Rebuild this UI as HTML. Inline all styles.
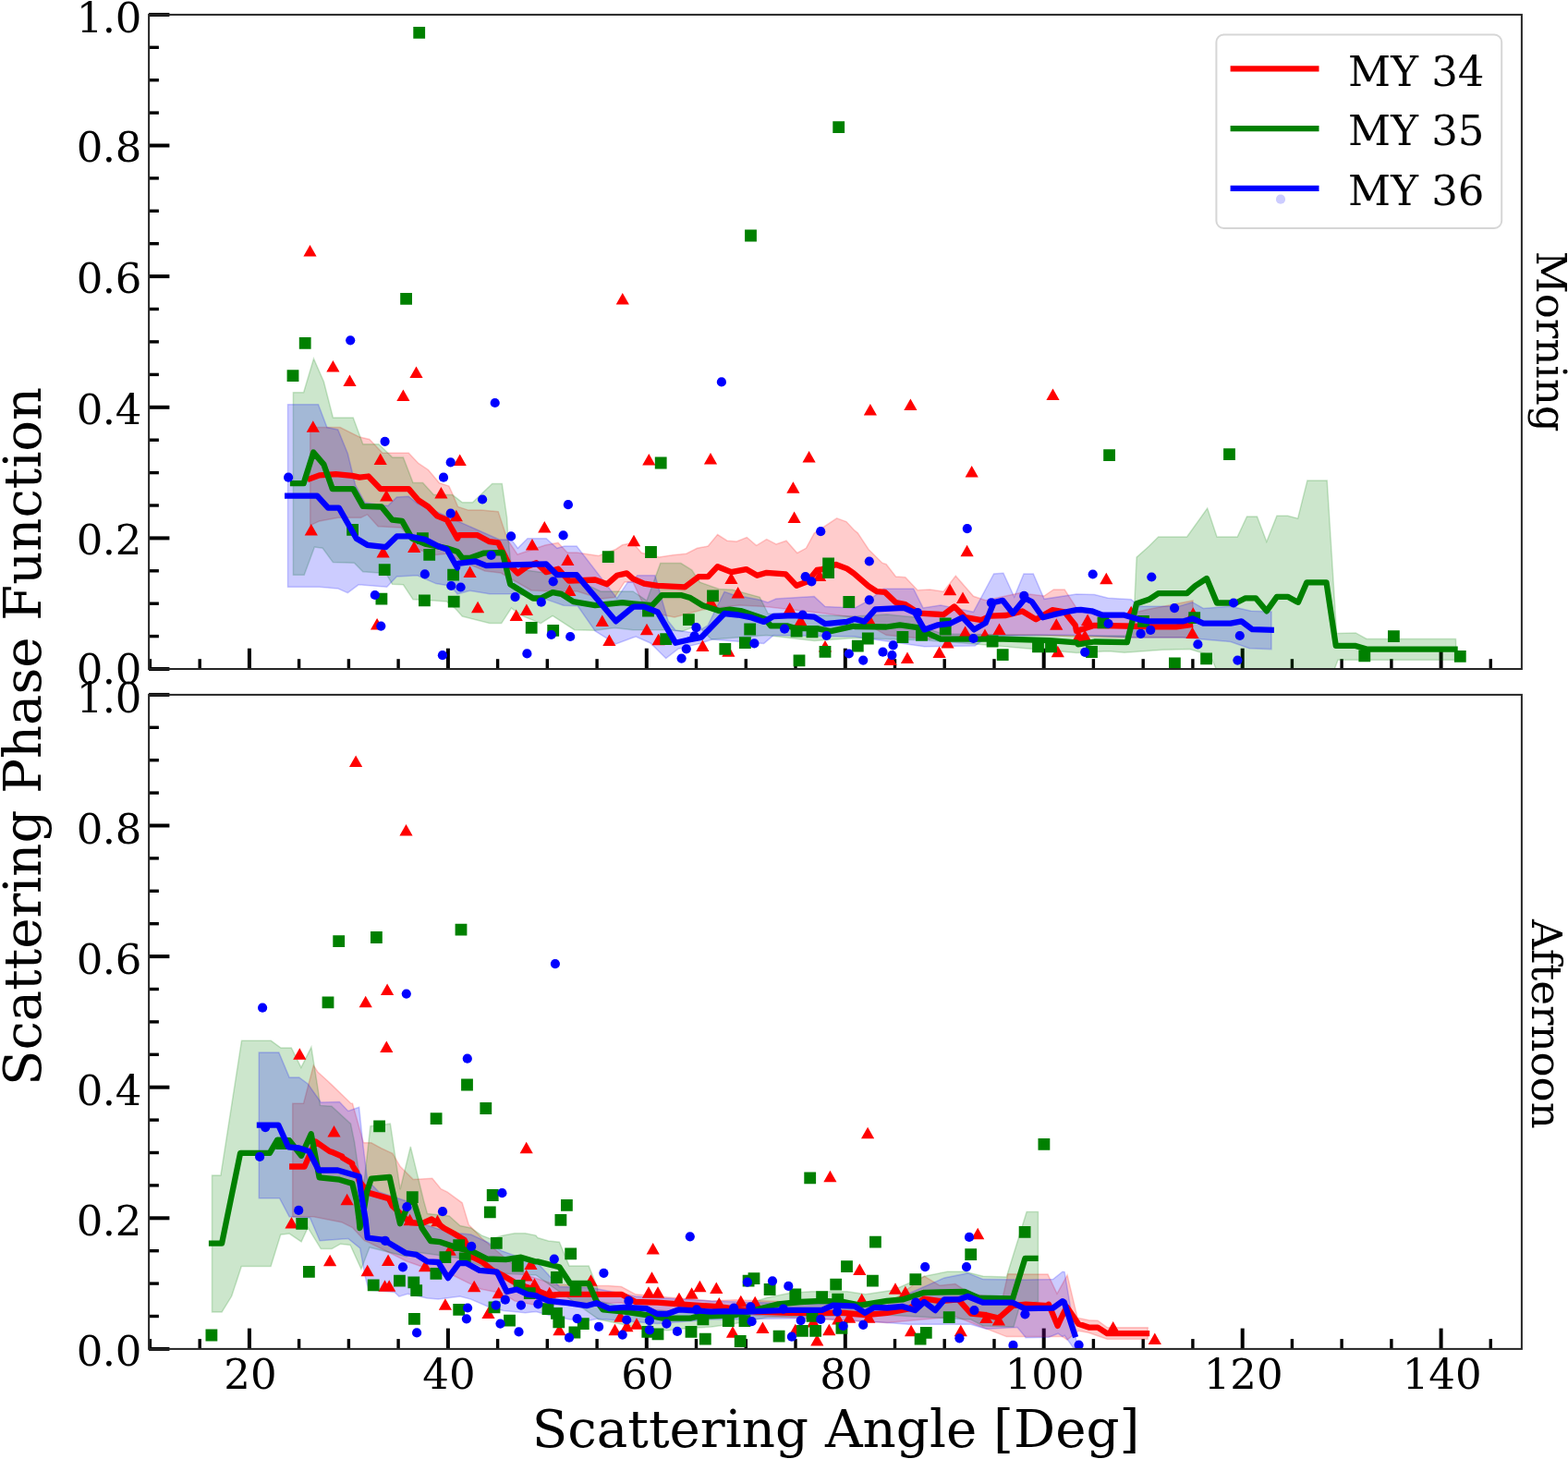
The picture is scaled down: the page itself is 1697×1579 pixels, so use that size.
<!DOCTYPE html><html><head><meta charset="utf-8"><style>html,body{margin:0;padding:0;background:#fff;overflow:hidden}svg{display:block}</style></head><body><svg width="1697" height="1579" viewBox="0 0 1697 1579" font-family="'DejaVu Serif', 'Liberation Serif', serif">
<rect width="1697" height="1579" fill="#fff"/>
<line x1="162.4" y1="724" x2="162.4" y2="713.2" stroke="#000" stroke-width="3.4"/>
<line x1="216.2" y1="724" x2="216.2" y2="713.2" stroke="#000" stroke-width="3.4"/>
<line x1="269.9" y1="724" x2="269.9" y2="701.7" stroke="#000" stroke-width="4.0"/>
<line x1="323.6" y1="724" x2="323.6" y2="713.2" stroke="#000" stroke-width="3.4"/>
<line x1="377.4" y1="724" x2="377.4" y2="713.2" stroke="#000" stroke-width="3.4"/>
<line x1="431.1" y1="724" x2="431.1" y2="713.2" stroke="#000" stroke-width="3.4"/>
<line x1="484.9" y1="724" x2="484.9" y2="701.7" stroke="#000" stroke-width="4.0"/>
<line x1="538.6" y1="724" x2="538.6" y2="713.2" stroke="#000" stroke-width="3.4"/>
<line x1="592.3" y1="724" x2="592.3" y2="713.2" stroke="#000" stroke-width="3.4"/>
<line x1="646.1" y1="724" x2="646.1" y2="713.2" stroke="#000" stroke-width="3.4"/>
<line x1="699.8" y1="724" x2="699.8" y2="701.7" stroke="#000" stroke-width="4.0"/>
<line x1="753.5" y1="724" x2="753.5" y2="713.2" stroke="#000" stroke-width="3.4"/>
<line x1="807.3" y1="724" x2="807.3" y2="713.2" stroke="#000" stroke-width="3.4"/>
<line x1="861" y1="724" x2="861" y2="713.2" stroke="#000" stroke-width="3.4"/>
<line x1="914.8" y1="724" x2="914.8" y2="701.7" stroke="#000" stroke-width="4.0"/>
<line x1="968.5" y1="724" x2="968.5" y2="713.2" stroke="#000" stroke-width="3.4"/>
<line x1="1022.2" y1="724" x2="1022.2" y2="713.2" stroke="#000" stroke-width="3.4"/>
<line x1="1076" y1="724" x2="1076" y2="713.2" stroke="#000" stroke-width="3.4"/>
<line x1="1129.7" y1="724" x2="1129.7" y2="701.7" stroke="#000" stroke-width="4.0"/>
<line x1="1183.4" y1="724" x2="1183.4" y2="713.2" stroke="#000" stroke-width="3.4"/>
<line x1="1237.2" y1="724" x2="1237.2" y2="713.2" stroke="#000" stroke-width="3.4"/>
<line x1="1290.9" y1="724" x2="1290.9" y2="713.2" stroke="#000" stroke-width="3.4"/>
<line x1="1344.7" y1="724" x2="1344.7" y2="701.7" stroke="#000" stroke-width="4.0"/>
<line x1="1398.4" y1="724" x2="1398.4" y2="713.2" stroke="#000" stroke-width="3.4"/>
<line x1="1452.1" y1="724" x2="1452.1" y2="713.2" stroke="#000" stroke-width="3.4"/>
<line x1="1505.9" y1="724" x2="1505.9" y2="713.2" stroke="#000" stroke-width="3.4"/>
<line x1="1559.6" y1="724" x2="1559.6" y2="701.7" stroke="#000" stroke-width="4.0"/>
<line x1="1613.3" y1="724" x2="1613.3" y2="713.2" stroke="#000" stroke-width="3.4"/>
<line x1="161.1" y1="724" x2="183.4" y2="724" stroke="#000" stroke-width="4.0"/>
<line x1="161.1" y1="688.6" x2="171.9" y2="688.6" stroke="#000" stroke-width="3.4"/>
<line x1="161.1" y1="653.2" x2="171.9" y2="653.2" stroke="#000" stroke-width="3.4"/>
<line x1="161.1" y1="617.8" x2="171.9" y2="617.8" stroke="#000" stroke-width="3.4"/>
<line x1="161.1" y1="582.4" x2="183.4" y2="582.4" stroke="#000" stroke-width="4.0"/>
<line x1="161.1" y1="547" x2="171.9" y2="547" stroke="#000" stroke-width="3.4"/>
<line x1="161.1" y1="511.6" x2="171.9" y2="511.6" stroke="#000" stroke-width="3.4"/>
<line x1="161.1" y1="476.2" x2="171.9" y2="476.2" stroke="#000" stroke-width="3.4"/>
<line x1="161.1" y1="440.8" x2="183.4" y2="440.8" stroke="#000" stroke-width="4.0"/>
<line x1="161.1" y1="405.4" x2="171.9" y2="405.4" stroke="#000" stroke-width="3.4"/>
<line x1="161.1" y1="369.9" x2="171.9" y2="369.9" stroke="#000" stroke-width="3.4"/>
<line x1="161.1" y1="334.5" x2="171.9" y2="334.5" stroke="#000" stroke-width="3.4"/>
<line x1="161.1" y1="299.1" x2="183.4" y2="299.1" stroke="#000" stroke-width="4.0"/>
<line x1="161.1" y1="263.7" x2="171.9" y2="263.7" stroke="#000" stroke-width="3.4"/>
<line x1="161.1" y1="228.3" x2="171.9" y2="228.3" stroke="#000" stroke-width="3.4"/>
<line x1="161.1" y1="192.9" x2="171.9" y2="192.9" stroke="#000" stroke-width="3.4"/>
<line x1="161.1" y1="157.5" x2="183.4" y2="157.5" stroke="#000" stroke-width="4.0"/>
<line x1="161.1" y1="122.1" x2="171.9" y2="122.1" stroke="#000" stroke-width="3.4"/>
<line x1="161.1" y1="86.7" x2="171.9" y2="86.7" stroke="#000" stroke-width="3.4"/>
<line x1="161.1" y1="51.3" x2="171.9" y2="51.3" stroke="#000" stroke-width="3.4"/>
<line x1="161.1" y1="15.9" x2="183.4" y2="15.9" stroke="#000" stroke-width="4.0"/>
<clipPath id="clip_top"><rect x="161.1" y="15.9" width="1485.8000000000002" height="708.1"/></clipPath>
<g clip-path="url(#clip_top)">
<path fill="#ff0000" fill-opacity="0.2" stroke="#ff0000" stroke-opacity="0.2" stroke-width="1.5" d="M335.7 462.5L368.1 462.5L389.3 473.1L399.9 475.5L414 490.2L442.3 490.2L452.9 501.4L463.5 508.5L475.3 522.6L485.9 526.1L489.7 534.4L495.6 548.5L506.8 552.1L520.4 552.1L539.2 553.8L549.2 583.9L560 600L590 590L604 587.4L614 598L624.1 598L647.6 601.6L666.5 594.5L673.6 589.8L685 587.4L694.2 598.3L713.3 602.9L728 600.7L742.8 599.2L754.6 593.3L766.3 591.1L776.6 578.6L787 585.2L797.3 585.9L808.3 581.5L818.6 590.4L829.7 583.7L840 588.9L851 585.2L862.8 598.5L872.4 593.3L881.2 577.1L905.6 560.9L915.9 564.6L925 574.2L928.3 576.8L940 594.5L954.8 609.2L959.2 610.7L969.5 624L979.8 624.7L993.1 638.7L1006.3 638L1021.1 640.2L1034.3 623.2L1053.5 645.3L1066.7 649.8L1103.6 641.7L1130 645L1140.4 638L1152.2 638L1165 657.9L1170 662L1220 665L1240 660L1291 650L1291 690L1220 690L1165 688.8L1121.2 687.3L1062.3 687.3L1003.4 691.7L959.2 687.3L925 668.4L893 664L828.2 656.6L800 655L760 660L730 668L700 662L685 630L675.9 629.9L665.3 646.4L650 648L625 640L600 640L575 639L542 620L525 618L495 605L483.6 599.2L471.8 600.4L451.7 594.5L442.3 580.4L434.1 570.9L409.3 569.7L397.5 556.8L390.5 560.3L365.7 560.3L345.7 563.9L335.7 568.6Z"/>
<path fill="#008000" fill-opacity="0.2" stroke="#008000" stroke-opacity="0.2" stroke-width="1.5" d="M317.4 424.8L328.6 424.8L339.5 388.2L350.4 413L360.4 451.9L382.2 451.9L392.8 480.8L409.9 480.8L424.6 494.9L436.4 494.9L447 522.6L457.6 522.6L469.4 535.6L485.9 535.6L489.7 535.6L500.3 543.8L511.5 543.8L532.7 523.5L543.3 523.5L548.6 560L549.8 580.4L553.4 615L591 620L625 628L650 640L685 640L700 650L714.8 609.5L736.9 609.5L748.7 616.9L757.5 630.1L778.1 637.5L792.9 638.2L822.3 646.3L831.2 664L925 667L960 665L990 668L1003 680L1020 686L1165 688L1219 688L1228 650L1230.1 603.1L1243.4 591.3L1253.7 581L1284.6 581L1306.7 550.1L1317 581L1339.2 581L1349.5 558.9L1360.5 558.9L1370.8 586.2L1381.9 558.2L1393.7 558.2L1404.6 561.1L1414.9 519.9L1436.2 519.9L1446.6 685.6L1467.2 684.9L1479 691.5L1575.5 691.5L1576.2 714.3L1576.2 714.3L1448 714.3L1443.6 726L1317 726L1309.7 709.2L1287.6 702.6L1258.1 703.3L1216.9 706.2L1199.2 704.8L1165 706.5L1062 697.6L1003 693L925 690.5L881.2 693.5L829.7 687.6L770 692L755 677L738.3 683.2L723.6 681.7L704.5 681.7L685 681.7L665.3 679.4L644.1 682.3L621.7 681.7L598.1 666.4L585.2 674.6L565.1 666.4L553.4 658.1L542.7 674.6L529.8 674.6L500.3 667L495 661.1L492.1 658.1L483.6 651.1L469.4 649.9L447 648.7L436.4 632.8L424.6 632.2L417.6 620.4L392.8 618.7L383.4 609.2L360.4 608.6L349.2 593.3L340.4 592.1L329.2 622.2L317.4 622.2Z"/>
<path fill="#0000ff" fill-opacity="0.2" stroke="#0000ff" stroke-opacity="0.2" stroke-width="1.5" d="M311.5 437.7L344.5 437.7L353.9 462.5L365.7 464.9L376.3 490.8L384.6 525L395 544L419.9 547.4L429.4 537.9L442.3 537.3L452 545L479 556.8L540.4 583.9L553.4 583.9L560.4 593.3L571 582.7L591.1 582.7L602.9 593.3L611.1 591L624.1 591L667.7 647.5L679.5 629.9L685 629.9L689.7 622.8L708.9 622.8L723 672L731 682L752 685L766 677L784 640.4L792.9 643.4L822.3 649.3L831 652L840 648L881.2 645.6L893 656.6L925 658.1L940 650L956.2 637.2L988.7 637.2L999 657.9L1018.1 654.9L1053.5 662.3L1075.6 621L1085.9 620.3L1097.7 646.1L1108 621L1118.3 621L1130.1 648.3L1165 643.1L1184.5 643.6L1199.2 647.3L1224.2 648.8L1233.1 656.2L1275.8 656.2L1290.5 651.7L1302.3 658.4L1331.8 656.2L1353.9 661.3L1376 662L1376 702.6L1352.4 701.8L1331.8 694.5L1280.2 690L1228.7 690L1165 687.3L1128.6 687.3L1069.7 688.8L1055 699.1L1000.4 699.8L960 694L925 689.1L837.1 687.6L826.7 696.4L770.8 692L757.5 696.4L733.9 702.3L720.7 712.6L704 696L688.3 689.1L685 690L666.5 697L644.1 682.9L625.2 655.8L609.9 655.2L598.1 651.1L580 645L553.4 642.8L529.8 642.8L508.6 639.3L495 642.8L492.1 639.3L483.6 633.4L471.8 631.6L451.7 622.8L429.4 624L418.7 635.2L388.1 632.8L376.3 641.6L365.7 636.9L345.7 635.2L311.5 635.2Z"/>
<path fill="#ff0000" d="M335.5 265.1L328.4 277.6L342.6 277.6ZM673.8 317.1L666.7 329.6L680.9 329.6ZM360.4 389.9L353.3 402.4L367.5 402.4ZM378.5 405.4L371.4 417.9L385.6 417.9ZM450.5 396.6L443.4 409.1L457.6 409.1ZM436.4 421.4L429.3 433.9L443.5 433.9ZM941.9 436.9L934.8 449.4L949 449.4ZM985.4 431.4L978.3 443.9L992.5 443.9ZM1139.5 420.4L1132.4 432.9L1146.6 432.9ZM338.8 455.2L331.7 467.8L345.9 467.8ZM411.7 490.4L404.6 502.9L418.8 502.9ZM418.2 530L411.1 542.5L425.3 542.5ZM477.4 527L470.3 539.5L484.5 539.5ZM336.8 567L329.7 579.5L343.9 579.5ZM414.6 591.1L407.5 603.6L421.7 603.6ZM448.2 585.4L441.1 597.9L455.3 597.9ZM408.1 669L401 681.5L415.2 681.5ZM497.7 491.6L490.6 504.1L504.8 504.1ZM493.8 551.8L486.7 564.2L500.9 564.2ZM589.3 564L582.2 576.5L596.4 576.5ZM576 583L568.9 595.5L583.1 595.5ZM614.4 599.5L607.3 612L621.5 612ZM508.6 612.5L501.5 625L515.7 625ZM616.4 632.5L609.3 645L623.5 645ZM517.1 650.8L510 663.2L524.2 663.2ZM569.9 653.6L562.8 666.1L577 666.1ZM558.7 659.5L551.6 672L565.8 672ZM651.8 665.5L644.7 678L658.9 678ZM659.4 686.6L652.3 699.1L666.5 699.1ZM702.3 491.1L695.2 503.6L709.4 503.6ZM769 489.9L761.9 502.4L776.1 502.4ZM875.6 488.1L868.5 500.6L882.7 500.6ZM858.4 521.2L851.3 533.8L865.5 533.8ZM859.6 553.4L852.5 565.9L866.7 565.9ZM686 578.8L678.9 591.2L693.1 591.2ZM791.4 619.5L784.3 632L798.5 632ZM798.7 635L791.6 647.5L805.8 647.5ZM700 674.8L692.9 687.2L707.1 687.2ZM712.6 685.8L705.5 698.2L719.7 698.2ZM760.4 692.4L753.3 704.9L767.5 704.9ZM769.3 644.5L762.2 657L776.4 657ZM854.7 651.9L847.6 664.4L861.8 664.4ZM866.5 665.1L859.4 677.6L873.6 677.6ZM788.4 698.2L781.3 710.8L795.5 710.8ZM887.1 616.5L880 629L894.2 629ZM893 693.1L885.9 705.6L900.1 705.6ZM1046.6 589.8L1039.5 602.2L1053.7 602.2ZM1028.1 631.8L1021 644.2L1035.2 644.2ZM1042 640.5L1034.9 653L1049.1 653ZM942.3 666.4L935.2 678.9L949.4 678.9ZM1044.6 677.4L1037.5 689.9L1051.7 689.9ZM1066 680.4L1058.9 692.9L1073.1 692.9ZM1081.5 674.5L1074.4 687L1088.6 687ZM1143.3 669.2L1136.2 681.8L1150.4 681.8ZM1016.6 699.5L1009.5 712L1023.7 712ZM982 705.4L974.9 717.9L989.1 717.9ZM963.6 707.5L956.5 720L970.7 720ZM1025.5 689.1L1018.4 701.6L1032.6 701.6ZM1144.8 698.8L1137.7 711.2L1151.9 711.2ZM1197.3 619.8L1190.2 632.2L1204.4 632.2ZM1177.1 664.6L1170 677.1L1184.2 677.1ZM1167.5 681.5L1160.4 694L1174.6 694ZM1174.2 681.5L1167.1 694L1181.3 694ZM1290.5 678.6L1283.4 691.1L1297.6 691.1ZM1291.3 657.2L1284.2 669.8L1298.4 669.8ZM1224.2 655.8L1217.1 668.2L1231.3 668.2ZM1051.7 503.9L1044.6 516.5L1058.8 516.5Z"/>
<path fill="none" stroke="#ff0000" stroke-width="6.3" stroke-linejoin="round" stroke-linecap="butt" d="M332.7 519.1L345.7 514.4L363.4 513.2L381 514.9L389.3 516.7L398.7 515.5L411.7 529.1L442.3 529.1L452.9 541.5L463.5 548.5L473 558.3L483.6 562.7L495 582.7L496.8 579.2L516.8 579.2L529.8 586.2L539.2 587.4L551 611L560.4 620.4L569.9 613.4L580.5 609.2L591.1 619.2L604 615.7L615.8 628.7L644.1 627.5L657.1 632.2L667.7 622.8L678.3 620.4L685 626.3L697.1 631.6L711.8 633.8L741.3 635.3L756 624.2L766.3 624.2L776.6 613.2L791.4 619.1L807.6 616.1L819.4 622.8L829.7 619.8L850.3 621.3L862.1 633.8L873.9 629.4L884.2 616.9L890.1 616.1L904.8 611L916.6 615.4L923.8 620.3L925 621.3L940 634.3L948.9 640.2L957.7 640.9L969.5 652L979.8 654.2L994.6 663.7L1021.1 665.2L1032.9 656.4L1044.6 668.2L1062.3 671.1L1071.2 666.7L1088.8 666L1106.5 661.5L1121.2 670.4L1138.9 660.1L1152.2 662.3L1163.8 676.8L1165 682.9L1184.5 676.8L1216.9 677.5L1249.3 678.3L1272.9 678.3L1291 676"/>
<path fill="#008000" d="M447.3 28.9h12.8v12.8h-12.8ZM901.3 131.2h12.8v12.8h-12.8ZM806.1 248.6h12.8v12.8h-12.8ZM433.2 316.9h12.8v12.8h-12.8ZM323.8 365h12.8v12.8h-12.8ZM310.6 400.2h12.8v12.8h-12.8ZM1194.2 486.2h12.8v12.8h-12.8ZM1324.1 485.3h12.8v12.8h-12.8ZM375.2 566.9h12.8v12.8h-12.8ZM409.8 610.3h12.8v12.8h-12.8ZM406.5 641.7h12.8v12.8h-12.8ZM451 576.3h12.8v12.8h-12.8ZM458.3 594h12.8v12.8h-12.8ZM453 643.5h12.8v12.8h-12.8ZM484.2 615.8h12.8v12.8h-12.8ZM484.8 644.7h12.8v12.8h-12.8ZM651.8 596.3h12.8v12.8h-12.8ZM568.8 673h12.8v12.8h-12.8ZM592.3 675.9h12.8v12.8h-12.8ZM708.8 494.6h12.8v12.8h-12.8ZM698.1 591.1h12.8v12.8h-12.8ZM890.2 603.6h12.8v12.8h-12.8ZM890.2 613.1h12.8v12.8h-12.8ZM765.1 638.5h12.8v12.8h-12.8ZM739 664.2h12.8v12.8h-12.8ZM695.1 654.7h12.8v12.8h-12.8ZM714.3 685.3h12.8v12.8h-12.8ZM778.4 695.9h12.8v12.8h-12.8ZM800 689.3h12.8v12.8h-12.8ZM805.3 674.6h12.8v12.8h-12.8ZM855.7 676.8h12.8v12.8h-12.8ZM872.6 677.5h12.8v12.8h-12.8ZM858.6 708.4h12.8v12.8h-12.8ZM886.6 698.9h12.8v12.8h-12.8ZM912.4 645.1h12.8v12.8h-12.8ZM932.9 684.6h12.8v12.8h-12.8ZM921.9 692.7h12.8v12.8h-12.8ZM970.5 683.1h12.8v12.8h-12.8ZM991.1 680.9h12.8v12.8h-12.8ZM1016.8 668.6h12.8v12.8h-12.8ZM1016.8 674.8h12.8v12.8h-12.8ZM1067.7 687.6h12.8v12.8h-12.8ZM1078.8 702.3h12.8v12.8h-12.8ZM1117.1 693.4h12.8v12.8h-12.8ZM1131.1 693.4h12.8v12.8h-12.8ZM1187.6 667.4h12.8v12.8h-12.8ZM1175.1 699.1h12.8v12.8h-12.8ZM1231.1 666h12.8v12.8h-12.8ZM1286.3 662.3h12.8v12.8h-12.8ZM1299.2 706.5h12.8v12.8h-12.8ZM1265 711.6h12.8v12.8h-12.8ZM1502 682.2h12.8v12.8h-12.8ZM1470.4 703.5h12.8v12.8h-12.8ZM1573.9 704h12.8v12.8h-12.8Z"/>
<path fill="none" stroke="#008000" stroke-width="6.3" stroke-linejoin="round" stroke-linecap="butt" d="M313.9 523.2L328.6 523.2L339.2 489.6L350.4 502.6L359.8 529.1L382.2 529.1L392.8 547.9L412.9 548.5L424.6 562.7L435.2 563.9L445.9 582.7L460 588.6L483.6 593.3L495 596.9L500.3 603.9L508.6 603.9L523.9 598.6L543.9 598L552.2 632.2L576.9 647.5L585.2 647.5L598.1 641.1L607.6 642.8L620.5 651.1L644.1 655.2L673.6 652.2L685 653.4L705.9 655.2L716.2 644.1L736.9 644.1L747.2 647.1L760.4 655.2L778.1 661.1L789.9 659.6L801.7 661.1L828.2 669.9L834.1 677.3L851.8 677.3L862.1 680.2L884.2 680.2L898.9 683.2L923.8 677.7L925 678L959.2 678.5L973.9 676.3L993.1 679.2L1003.4 685.1L1018.1 691.7L1062.3 691.7L1085.9 691.7L1136 693.2L1165 695.4L1166.8 697.4L1184.5 694.5L1219.8 695.2L1230.1 653.2L1243.4 648.8L1253.7 642.2L1284.6 642.2L1293.5 634.1L1306 626L1317 652.5L1337.7 652.5L1348 647.3L1359 647.3L1370.8 661.3L1381.9 645.8L1393.7 645.8L1403.1 651L1405 651.7L1414.2 630.4L1435.5 630.4L1445.8 698.9L1467.2 698.9L1479 702.6L1577.7 702.6"/>
<g fill="#0000ff"><circle cx="379.2" cy="368.3" r="5.1"/><circle cx="780.9" cy="413.4" r="5.1"/><circle cx="535.7" cy="436" r="5.1"/><circle cx="416.6" cy="477.8" r="5.1"/><circle cx="1386" cy="215.7" r="5.1"/><circle cx="312.1" cy="516.7" r="5.1"/><circle cx="487.7" cy="500.4" r="5.1"/><circle cx="480" cy="516.7" r="5.1"/><circle cx="487.7" cy="555.7" r="5.1"/><circle cx="405.8" cy="644" r="5.1"/><circle cx="412.3" cy="677.6" r="5.1"/><circle cx="459.8" cy="621.4" r="5.1"/><circle cx="488.3" cy="634" r="5.1"/><circle cx="478.9" cy="709.2" r="5.1"/><circle cx="522.1" cy="540.5" r="5.1"/><circle cx="614.9" cy="546.2" r="5.1"/><circle cx="553.1" cy="580.4" r="5.1"/><circle cx="609.6" cy="579.4" r="5.1"/><circle cx="531.6" cy="601" r="5.1"/><circle cx="598.7" cy="629.3" r="5.1"/><circle cx="498.6" cy="635.5" r="5.1"/><circle cx="557.5" cy="646.1" r="5.1"/><circle cx="585.8" cy="651.7" r="5.1"/><circle cx="596.7" cy="687" r="5.1"/><circle cx="617.2" cy="689" r="5.1"/><circle cx="570.4" cy="707.4" r="5.1"/><circle cx="888.2" cy="575.2" r="5.1"/><circle cx="871.7" cy="624.2" r="5.1"/><circle cx="878.3" cy="629.4" r="5.1"/><circle cx="753.5" cy="679.2" r="5.1"/><circle cx="751.6" cy="688.3" r="5.1"/><circle cx="742.8" cy="702.3" r="5.1"/><circle cx="737.6" cy="712.6" r="5.1"/><circle cx="816.4" cy="696.4" r="5.1"/><circle cx="849.1" cy="680.7" r="5.1"/><circle cx="868.7" cy="665.5" r="5.1"/><circle cx="894.5" cy="688" r="5.1"/><circle cx="918.8" cy="707.5" r="5.1"/><circle cx="1046.8" cy="572.1" r="5.1"/><circle cx="940.8" cy="607.5" r="5.1"/><circle cx="940.8" cy="649.3" r="5.1"/><circle cx="993.1" cy="663" r="5.1"/><circle cx="1072.9" cy="652.3" r="5.1"/><circle cx="1108.3" cy="644.9" r="5.1"/><circle cx="1053.5" cy="691" r="5.1"/><circle cx="966.6" cy="698.4" r="5.1"/><circle cx="955.5" cy="705.7" r="5.1"/><circle cx="965.4" cy="709.1" r="5.1"/><circle cx="934.2" cy="714.6" r="5.1"/><circle cx="1182.7" cy="621.5" r="5.1"/><circle cx="1246.3" cy="624.5" r="5.1"/><circle cx="1271.1" cy="658.1" r="5.1"/><circle cx="1335" cy="652.5" r="5.1"/><circle cx="1199.6" cy="675" r="5.1"/><circle cx="1234.6" cy="685.9" r="5.1"/><circle cx="1245.2" cy="681.9" r="5.1"/><circle cx="1341.8" cy="688" r="5.1"/><circle cx="1296.4" cy="697.4" r="5.1"/><circle cx="1174.2" cy="705.8" r="5.1"/><circle cx="1339.4" cy="714.6" r="5.1"/></g>
<path fill="none" stroke="#0000ff" stroke-width="6.3" stroke-linejoin="round" stroke-linecap="butt" d="M308 536.7L343.3 536.7L355.1 549.7L366.9 549.7L385.7 582.7L397.5 589.8L417.6 592.1L429.4 580.4L442.3 580.4L460 583.9L474.1 591L483.6 594.5L495 614.5L495.6 609.8L514.5 607.5L526.2 612.2L591.1 610.4L602.9 622.2L624.1 622.2L666.5 672.3L685 657L686.8 656.6L697.1 656.6L711.8 662.5L731 695.7L744.2 692.7L759 689.8L784 664L798.7 665.5L813.5 668.4L826.7 672.9L837.1 667L857.7 666.2L881.2 667.7L893 675.1L916.6 672.9L925 669.9L935.6 672.6L947.4 659.3L978.3 657.9L990.1 663L1000.4 681.4L1015.2 676.3L1028.4 674.8L1041.7 668.2L1054.2 681.4L1066.7 674.1L1075.6 652L1085.2 649.8L1096.2 663.7L1109.5 647.5L1116.8 651.2L1128.6 668.2L1140.4 665.2L1155 662L1165 660.1L1169.7 659.8L1181.5 661.3L1193.3 665.7L1216.9 665.7L1234.6 670.9L1243.4 672.4L1280.2 672.4L1290.5 669.4L1302.3 674.6L1331.8 674.6L1343.6 672.4L1355.4 681.2L1378.9 681.9"/>
</g>
<rect x="161.1" y="15.9" width="1485.8000000000002" height="708.1" fill="none" stroke="#262626" stroke-width="2.0"/>
<text x="153.0" y="740.4" text-anchor="end" font-size="45" letter-spacing="-0.4">0.0</text>
<text x="153.0" y="600.4" text-anchor="end" font-size="45" letter-spacing="-0.4">0.2</text>
<text x="153.0" y="458.9" text-anchor="end" font-size="45" letter-spacing="-0.4">0.4</text>
<text x="153.0" y="317.4" text-anchor="end" font-size="45" letter-spacing="-0.4">0.6</text>
<text x="153.0" y="175.4" text-anchor="end" font-size="45" letter-spacing="-0.4">0.8</text>
<text x="153.0" y="35.4" text-anchor="end" font-size="45" letter-spacing="-0.4">1.0</text>
<line x1="162.4" y1="1459.9" x2="162.4" y2="1449.1" stroke="#000" stroke-width="3.4"/>
<line x1="216.2" y1="1459.9" x2="216.2" y2="1449.1" stroke="#000" stroke-width="3.4"/>
<line x1="269.9" y1="1459.9" x2="269.9" y2="1437.6" stroke="#000" stroke-width="4.0"/>
<line x1="323.6" y1="1459.9" x2="323.6" y2="1449.1" stroke="#000" stroke-width="3.4"/>
<line x1="377.4" y1="1459.9" x2="377.4" y2="1449.1" stroke="#000" stroke-width="3.4"/>
<line x1="431.1" y1="1459.9" x2="431.1" y2="1449.1" stroke="#000" stroke-width="3.4"/>
<line x1="484.9" y1="1459.9" x2="484.9" y2="1437.6" stroke="#000" stroke-width="4.0"/>
<line x1="538.6" y1="1459.9" x2="538.6" y2="1449.1" stroke="#000" stroke-width="3.4"/>
<line x1="592.3" y1="1459.9" x2="592.3" y2="1449.1" stroke="#000" stroke-width="3.4"/>
<line x1="646.1" y1="1459.9" x2="646.1" y2="1449.1" stroke="#000" stroke-width="3.4"/>
<line x1="699.8" y1="1459.9" x2="699.8" y2="1437.6" stroke="#000" stroke-width="4.0"/>
<line x1="753.5" y1="1459.9" x2="753.5" y2="1449.1" stroke="#000" stroke-width="3.4"/>
<line x1="807.3" y1="1459.9" x2="807.3" y2="1449.1" stroke="#000" stroke-width="3.4"/>
<line x1="861" y1="1459.9" x2="861" y2="1449.1" stroke="#000" stroke-width="3.4"/>
<line x1="914.8" y1="1459.9" x2="914.8" y2="1437.6" stroke="#000" stroke-width="4.0"/>
<line x1="968.5" y1="1459.9" x2="968.5" y2="1449.1" stroke="#000" stroke-width="3.4"/>
<line x1="1022.2" y1="1459.9" x2="1022.2" y2="1449.1" stroke="#000" stroke-width="3.4"/>
<line x1="1076" y1="1459.9" x2="1076" y2="1449.1" stroke="#000" stroke-width="3.4"/>
<line x1="1129.7" y1="1459.9" x2="1129.7" y2="1437.6" stroke="#000" stroke-width="4.0"/>
<line x1="1183.4" y1="1459.9" x2="1183.4" y2="1449.1" stroke="#000" stroke-width="3.4"/>
<line x1="1237.2" y1="1459.9" x2="1237.2" y2="1449.1" stroke="#000" stroke-width="3.4"/>
<line x1="1290.9" y1="1459.9" x2="1290.9" y2="1449.1" stroke="#000" stroke-width="3.4"/>
<line x1="1344.7" y1="1459.9" x2="1344.7" y2="1437.6" stroke="#000" stroke-width="4.0"/>
<line x1="1398.4" y1="1459.9" x2="1398.4" y2="1449.1" stroke="#000" stroke-width="3.4"/>
<line x1="1452.1" y1="1459.9" x2="1452.1" y2="1449.1" stroke="#000" stroke-width="3.4"/>
<line x1="1505.9" y1="1459.9" x2="1505.9" y2="1449.1" stroke="#000" stroke-width="3.4"/>
<line x1="1559.6" y1="1459.9" x2="1559.6" y2="1437.6" stroke="#000" stroke-width="4.0"/>
<line x1="1613.3" y1="1459.9" x2="1613.3" y2="1449.1" stroke="#000" stroke-width="3.4"/>
<line x1="161.1" y1="1459.9" x2="183.4" y2="1459.9" stroke="#000" stroke-width="4.0"/>
<line x1="161.1" y1="1424.5" x2="171.9" y2="1424.5" stroke="#000" stroke-width="3.4"/>
<line x1="161.1" y1="1389.1" x2="171.9" y2="1389.1" stroke="#000" stroke-width="3.4"/>
<line x1="161.1" y1="1353.7" x2="171.9" y2="1353.7" stroke="#000" stroke-width="3.4"/>
<line x1="161.1" y1="1318.3" x2="183.4" y2="1318.3" stroke="#000" stroke-width="4.0"/>
<line x1="161.1" y1="1282.9" x2="171.9" y2="1282.9" stroke="#000" stroke-width="3.4"/>
<line x1="161.1" y1="1247.5" x2="171.9" y2="1247.5" stroke="#000" stroke-width="3.4"/>
<line x1="161.1" y1="1212.1" x2="171.9" y2="1212.1" stroke="#000" stroke-width="3.4"/>
<line x1="161.1" y1="1176.7" x2="183.4" y2="1176.7" stroke="#000" stroke-width="4.0"/>
<line x1="161.1" y1="1141.3" x2="171.9" y2="1141.3" stroke="#000" stroke-width="3.4"/>
<line x1="161.1" y1="1105.9" x2="171.9" y2="1105.9" stroke="#000" stroke-width="3.4"/>
<line x1="161.1" y1="1070.5" x2="171.9" y2="1070.5" stroke="#000" stroke-width="3.4"/>
<line x1="161.1" y1="1035.1" x2="183.4" y2="1035.1" stroke="#000" stroke-width="4.0"/>
<line x1="161.1" y1="999.7" x2="171.9" y2="999.7" stroke="#000" stroke-width="3.4"/>
<line x1="161.1" y1="964.3" x2="171.9" y2="964.3" stroke="#000" stroke-width="3.4"/>
<line x1="161.1" y1="928.9" x2="171.9" y2="928.9" stroke="#000" stroke-width="3.4"/>
<line x1="161.1" y1="893.5" x2="183.4" y2="893.5" stroke="#000" stroke-width="4.0"/>
<line x1="161.1" y1="858.1" x2="171.9" y2="858.1" stroke="#000" stroke-width="3.4"/>
<line x1="161.1" y1="822.7" x2="171.9" y2="822.7" stroke="#000" stroke-width="3.4"/>
<line x1="161.1" y1="787.3" x2="171.9" y2="787.3" stroke="#000" stroke-width="3.4"/>
<line x1="161.1" y1="751.9" x2="183.4" y2="751.9" stroke="#000" stroke-width="4.0"/>
<clipPath id="clip_bot"><rect x="161.1" y="751.9" width="1485.8000000000002" height="708.0000000000001"/></clipPath>
<g clip-path="url(#clip_bot)">
<path fill="#ff0000" fill-opacity="0.2" stroke="#ff0000" stroke-opacity="0.2" stroke-width="1.5" d="M316.7 1194.2L328.5 1194.2L339.3 1153.1L343.8 1160L354.8 1170L359.1 1174.1L379.5 1193.9L381.5 1194.2L393.3 1236.6L394.4 1236.8L401.8 1236.8L412.5 1242.6L424.9 1248.4L433.1 1262.4L447.2 1276.4L467.8 1275.2L477.2 1286.7L484.3 1290.2L500.2 1301.8L507.3 1325.4L521.4 1340L545 1360L570 1380L600 1390L640.7 1391.4L658.4 1391.4L672.5 1392.5L687.9 1400.8L711.4 1403.1L770 1407.9L795.4 1406.7L960 1412.6L1000.3 1381.2L1017.1 1391.3L1033.9 1389.6L1050 1400L1085 1405L1090.9 1378.7L1110 1379.1L1134 1379.1L1144 1400L1155.1 1380.1L1166.1 1426.2L1178.1 1428.7L1188.1 1429.2L1198.2 1436.7L1242.2 1436.7L1242.2 1449.2L1198.2 1449.2L1178.1 1442.2L1167.1 1440.2L1155 1450L1150 1446.6L1089.3 1446.6L1033.9 1424.8L960 1431.4L770 1421L711.4 1418L672.5 1410L600 1412L580 1412.6L556.8 1407.9L545 1400L520 1395L500 1385L480 1375L460 1372L440 1365L420 1355L400 1345L394.5 1342.7L381.5 1328.6L369.7 1322.7L339.1 1316.8L316.7 1316.7Z"/>
<path fill="#008000" fill-opacity="0.2" stroke="#008000" stroke-opacity="0.2" stroke-width="1.5" d="M229.5 1272L238.9 1272L261.5 1126.3L293.3 1126.3L303.9 1134L315.3 1134L325.9 1155.3L336.9 1133.3L344.3 1180L346.5 1196.4L358.9 1197.2L379.5 1216.2L383.6 1236L387.8 1265L394 1280L400.9 1218.7L422.4 1216.2L433.1 1287.2L444.3 1241L458.7 1300L462.5 1313.6L486.1 1315.9L497.9 1326.5L509.6 1328.9L521.4 1337.1L530.9 1340.7L545 1337L556.8 1334.8L568.6 1334.8L580 1337.1L581.8 1339.5L593.6 1343L605.4 1344.2L616 1370.1L637.2 1370.1L646.6 1393.7L647.8 1407.9L676.1 1414.9L770 1423.2L830.7 1404.3L854.3 1399.6L877.9 1397.8L916.8 1397.8L936.8 1400.8L960 1397.2L966.8 1396.3L1000.3 1381.2L1025.5 1376.2L1044 1376.2L1064.1 1381.2L1089.3 1382L1111.1 1311.6L1122 1311.6L1123.5 1311.6L1123.5 1409L1104 1412L1097 1436L1064 1435L1050.7 1428L960 1423.2L877.9 1424.4L830.7 1425.5L795.4 1432.6L770 1436.1L746.8 1437.3L723.2 1439.7L699.6 1438.5L676.1 1433.8L647.8 1427.9L580 1380L540 1378L500 1362L450 1355L440 1360L400 1350L390.9 1373.4L379.1 1347.4L368.5 1346.2L359.1 1351.6L347.3 1351.6L333.2 1328.6L326.1 1343.9L313.1 1335.1L303.7 1336.2L293.1 1370.4L261.3 1370.4L250.7 1402.8L240.1 1419.9L229.5 1419.9Z"/>
<path fill="#0000ff" fill-opacity="0.2" stroke="#0000ff" stroke-opacity="0.2" stroke-width="1.5" d="M280.3 1139L301.8 1139L313.1 1165.9L323.7 1165.9L333.2 1173L347.3 1193L367.4 1192.4L376.8 1202.4L388.6 1198.3L393 1240L397.6 1277L410 1290L440 1300L460.1 1325.4L474.3 1330.1L496.7 1334.8L509.6 1336L527.3 1344.2L542.6 1353.6L560 1360L580 1365L605.4 1392.5L640.7 1393.7L687.9 1403.1L705.5 1404.3L770 1407.9L877.9 1411.4L960 1410.2L1022.1 1382.9L1047.3 1377.9L1064.1 1384.6L1110 1385.1L1139.6 1384.6L1150 1376.2L1152.1 1376.6L1166.1 1459.2L1162.1 1459.2L1152.1 1445.2L1150 1446.6L1145.1 1443.2L1135 1447.2L1110 1447.7L1109.4 1446.6L1101 1436.6L1067.4 1438.3L1050.7 1433.2L1017.1 1433.2L983.6 1433.2L960 1431.4L877.9 1426.7L770 1427.9L711.4 1432.6L646.6 1427.3L634.8 1429.7L617.1 1427.9L593.6 1423.2L580 1419.6L568.6 1420.8L545 1418.5L527.3 1413.7L509.6 1406.1L497.9 1403.1L474.3 1406.1L462.5 1404.9L441.3 1400.2L431.9 1403.1L427.1 1398.4L398.9 1396.1L395.3 1381.9L389.7 1351L376.8 1340.4L346.1 1342.7L335.5 1318L313.1 1316.7L302.5 1296.7L280.3 1296.7Z"/>
<path fill="#ff0000" d="M385.1 817.5L378 830L392.2 830ZM439.5 892L432.4 904.5L446.6 904.5ZM419.1 1064.5L412 1077L426.2 1077ZM395.7 1077.7L388.6 1090.2L402.8 1090.2ZM324.3 1134.2L317.2 1146.7L331.4 1146.7ZM418.3 1126.5L411.2 1139L425.4 1139ZM361.5 1218L354.4 1230.5L368.6 1230.5ZM375.6 1291.7L368.5 1304.2L382.7 1304.2ZM315.5 1317L308.4 1329.5L322.6 1329.5ZM357.1 1357.7L350 1370.2L364.2 1370.2ZM569.7 1235.7L562.6 1248.2L576.8 1248.2ZM443.6 1313.8L436.5 1326.3L450.7 1326.3ZM420.1 1357.5L413 1370L427.2 1370ZM397.7 1368.7L390.6 1381.2L404.8 1381.2ZM416.5 1385.2L409.4 1397.7L423.6 1397.7ZM421.2 1385.2L414.1 1397.7L428.3 1397.7ZM460.1 1363.8L453 1376.3L467.2 1376.3ZM486.7 1346.2L479.6 1358.8L493.8 1358.8ZM513.2 1385.7L506.1 1398.2L520.3 1398.2ZM481.9 1405.2L474.8 1417.7L489 1417.7ZM528.5 1414.5L521.4 1427L535.6 1427ZM539.7 1392.8L532.6 1405.2L546.8 1405.2ZM569.7 1374L562.6 1386.5L576.8 1386.5ZM574.5 1361.5L567.4 1374L581.6 1374ZM504.9 1351L497.8 1363.5L512 1363.5ZM706.7 1345L699.6 1357.5L713.8 1357.5ZM705.5 1376.2L698.4 1388.8L712.6 1388.8ZM702 1392.2L694.9 1404.7L709.1 1404.7ZM712 1392.2L704.9 1404.7L719.1 1404.7ZM748.6 1393.3L741.5 1405.8L755.7 1405.8ZM757.4 1385.7L750.3 1398.2L764.5 1398.2ZM735 1398.7L727.9 1411.2L742.1 1411.2ZM639.5 1379.2L632.4 1391.8L646.6 1391.8ZM594.7 1392.8L587.6 1405.2L601.8 1405.2ZM605.4 1432.8L598.3 1445.3L612.5 1445.3ZM665.5 1432.8L658.4 1445.3L672.6 1445.3ZM678.4 1428.8L671.3 1441.2L685.5 1441.2ZM689 1426.3L681.9 1438.8L696.1 1438.8ZM671.4 1418.2L664.3 1430.7L678.5 1430.7ZM775.3 1387.5L768.2 1400L782.4 1400ZM778.3 1404L771.2 1416.5L785.4 1416.5ZM801.8 1401.7L794.7 1414.2L808.9 1414.2ZM817.2 1402.8L810.1 1415.2L824.3 1415.2ZM793 1435.2L785.9 1447.7L800.1 1447.7ZM825.4 1430.5L818.3 1443L832.5 1443ZM860.8 1432.8L853.7 1445.3L867.9 1445.3ZM880.2 1424L873.1 1436.5L887.3 1436.5ZM897.3 1432.8L890.2 1445.3L904.4 1445.3ZM884.3 1444L877.2 1456.5L891.4 1456.5ZM907.3 1421L900.2 1433.5L914.4 1433.5ZM919.1 1419.2L912 1431.8L926.2 1431.8ZM930.3 1367.5L923.2 1380L937.4 1380ZM932.7 1399.8L925.6 1412.3L939.8 1412.3ZM940.3 1419.2L933.2 1431.8L947.4 1431.8ZM1058.2 1328.8L1051.1 1341.3L1065.3 1341.3ZM969 1388.3L961.9 1400.8L976.1 1400.8ZM979.9 1391.8L972.8 1404.2L987 1404.2ZM986.1 1433.7L979 1446.2L993.2 1446.2ZM1039.8 1433.7L1032.7 1446.2L1046.9 1446.2ZM1067.4 1419.5L1060.3 1432L1074.5 1432ZM1080.9 1422L1073.8 1434.5L1088 1434.5ZM1204.7 1430L1197.6 1442.5L1211.8 1442.5ZM1249.8 1442.5L1242.7 1455L1256.9 1455ZM939.1 1219.7L932 1232.2L946.2 1232.2ZM898.4 1266.8L891.3 1279.2L905.5 1279.2ZM473.5 1314.8L466.4 1327.2L480.6 1327.2ZM578.5 1383.2L571.4 1395.8L585.6 1395.8Z"/>
<path fill="none" stroke="#ff0000" stroke-width="6.3" stroke-linejoin="round" stroke-linecap="butt" d="M313.1 1262.5L329.6 1262.5L341.4 1235.4L356.7 1246L358.9 1246.7L370.4 1251.7L370.9 1253.1L381.2 1259.1L381.5 1261.4L386.1 1269L388.6 1277.9L394.4 1285.5L394.5 1289.6L420.8 1297.1L424.8 1305.3L443.6 1323L456.6 1324.2L467.2 1319.5L480.2 1328.9L490.8 1334.8L502.6 1341.9L512 1360.7L521.4 1365.4L533.2 1374.9L545 1380.7L556.8 1387.8L568.6 1392.5L580 1396.1L593.6 1402L605.4 1400.8L672.5 1400.8L687.9 1409L711.4 1409.6L735 1411.4L770 1413.7L783.6 1414.9L818.9 1419.6L854.3 1420.8L889.6 1420.8L913.2 1420.8L925 1422L936.8 1423.2L960 1420.8L983.6 1416.4L1000.3 1405.5L1017.1 1408.1L1037.2 1406.4L1050.7 1421.5L1067.4 1423.2L1080.9 1426.5L1096 1413.1L1110 1411.6L1134.6 1413.1L1135 1411.6L1144.6 1434.9L1150 1423.2L1154.6 1414.6L1167.1 1432.7L1179.1 1436.7L1188.1 1436.7L1198.2 1443.2L1244.2 1443.2"/>
<path fill="#008000" d="M360.3 1012.2h12.8v12.8h-12.8ZM401 1008.1h12.8v12.8h-12.8ZM492.6 999.8h12.8v12.8h-12.8ZM348.6 1078.4h12.8v12.8h-12.8ZM499.1 1167.6h12.8v12.8h-12.8ZM222.5 1438.6h12.8v12.8h-12.8ZM328 1369.9h12.8v12.8h-12.8ZM320.3 1318h12.8v12.8h-12.8ZM519.4 1193.1h12.8v12.8h-12.8ZM465.7 1204.3h12.8v12.8h-12.8ZM404.2 1212.5h12.8v12.8h-12.8ZM439.9 1289.2h12.8v12.8h-12.8ZM526.8 1287.1h12.8v12.8h-12.8ZM523.9 1305.4h12.8v12.8h-12.8ZM530.9 1339h12.8v12.8h-12.8ZM490.3 1341.3h12.8v12.8h-12.8ZM475.5 1354.3h12.8v12.8h-12.8ZM496.8 1355.5h12.8v12.8h-12.8ZM465.5 1372h12.8v12.8h-12.8ZM426 1379.7h12.8v12.8h-12.8ZM397.8 1384.4h12.8v12.8h-12.8ZM441.4 1381.4h12.8v12.8h-12.8ZM444.3 1390.3h12.8v12.8h-12.8ZM490.3 1410.9h12.8v12.8h-12.8ZM528.6 1408.5h12.8v12.8h-12.8ZM442 1420.9h12.8v12.8h-12.8ZM545.1 1422.7h12.8v12.8h-12.8ZM553.9 1363.7h12.8v12.8h-12.8ZM555.7 1385h12.8v12.8h-12.8ZM566.9 1393.2h12.8v12.8h-12.8ZM607 1298h12.8v12.8h-12.8ZM600.5 1314h12.8v12.8h-12.8ZM611.3 1350.5h12.8v12.8h-12.8ZM596 1376.1h12.8v12.8h-12.8ZM616.6 1389.7h12.8v12.8h-12.8ZM586.6 1410.3h12.8v12.8h-12.8ZM596 1415h12.8v12.8h-12.8ZM598.4 1424.4h12.8v12.8h-12.8ZM624.9 1426.2h12.8v12.8h-12.8ZM615.5 1435.6h12.8v12.8h-12.8ZM694.4 1435h12.8v12.8h-12.8ZM705.6 1437.4h12.8v12.8h-12.8ZM741.6 1435h12.8v12.8h-12.8ZM754.5 1421.5h12.8v12.8h-12.8ZM756.9 1442.7h12.8v12.8h-12.8ZM941 1337.8h12.8v12.8h-12.8ZM910.1 1364.3h12.8v12.8h-12.8ZM938 1379.7h12.8v12.8h-12.8ZM898.3 1383.8h12.8v12.8h-12.8ZM809.6 1377.3h12.8v12.8h-12.8ZM803.7 1379.7h12.8v12.8h-12.8ZM826.7 1389.1h12.8v12.8h-12.8ZM854.4 1394.4h12.8v12.8h-12.8ZM883.2 1397.3h12.8v12.8h-12.8ZM900.3 1399.7h12.8v12.8h-12.8ZM872.6 1418h12.8v12.8h-12.8ZM904.5 1430.9h12.8v12.8h-12.8ZM862 1433.9h12.8v12.8h-12.8ZM876.2 1433.9h12.8v12.8h-12.8ZM836.7 1439.8h12.8v12.8h-12.8ZM794.8 1445.1h12.8v12.8h-12.8ZM781.9 1423.3h12.8v12.8h-12.8ZM799.6 1423.3h12.8v12.8h-12.8ZM1123.5 1231.9h12.8v12.8h-12.8ZM1102.7 1327h12.8v12.8h-12.8ZM1044.3 1351.3h12.8v12.8h-12.8ZM984.4 1378.2h12.8v12.8h-12.8ZM1020.8 1419.3h12.8v12.8h-12.8ZM995.9 1436h12.8v12.8h-12.8ZM989.7 1442.8h12.8v12.8h-12.8ZM870.3 1268.5h12.8v12.8h-12.8ZM298.3 1231.3h12.8v12.8h-12.8Z"/>
<path fill="none" stroke="#008000" stroke-width="6.3" stroke-linejoin="round" stroke-linecap="butt" d="M225.9 1345.7L240.1 1345.7L260.1 1247.8L291.9 1247.8L300.2 1233.7L313.1 1234.2L326.1 1250.7L336.7 1227.2L345.6 1274.3L367.4 1276.7L379.1 1280.2L381.2 1280.5L386 1300L388.6 1320L389.4 1329L392 1320L397 1290L401.8 1275.6L421.6 1274L427.4 1300L433 1324.2L446 1294.7L456.6 1328.9L466 1343L476.6 1344.2L497.9 1351.3L509.6 1353.6L527.3 1362.5L547.4 1363.1L563.9 1360.7L580 1365.4L581.8 1365.4L605.4 1371.3L617.1 1389L637.2 1389L645.4 1407.9L652.5 1417.3L676.1 1419.6L699.6 1423.2L717.3 1426.7L746.8 1426.7L756.2 1424.4L770 1424.4L795.4 1423.2L842.5 1411.4L866.1 1409L889.6 1407.9L913.2 1409L930.9 1412.6L960 1407.9L976.8 1406.4L1000.3 1398.8L1044 1398L1059.1 1404.7L1096 1405.5L1109.4 1361.9L1123.7 1361.9"/>
<g fill="#0000ff"><circle cx="284.1" cy="1090.7" r="5.1"/><circle cx="439.8" cy="1075.6" r="5.1"/><circle cx="600.9" cy="1043.1" r="5.1"/><circle cx="505.8" cy="1145.7" r="5.1"/><circle cx="287.2" cy="1220.1" r="5.1"/><circle cx="281.1" cy="1251.9" r="5.1"/><circle cx="323.2" cy="1309.9" r="5.1"/><circle cx="543.4" cy="1291.2" r="5.1"/><circle cx="440.4" cy="1306.2" r="5.1"/><circle cx="479" cy="1311.2" r="5.1"/><circle cx="510.2" cy="1348.9" r="5.1"/><circle cx="436" cy="1371.3" r="5.1"/><circle cx="506.1" cy="1415.5" r="5.1"/><circle cx="504.9" cy="1427.3" r="5.1"/><circle cx="536.7" cy="1412.6" r="5.1"/><circle cx="546.8" cy="1406.7" r="5.1"/><circle cx="563.9" cy="1412.6" r="5.1"/><circle cx="541.5" cy="1432.6" r="5.1"/><circle cx="561.5" cy="1441.4" r="5.1"/><circle cx="451.1" cy="1442.4" r="5.1"/><circle cx="599.8" cy="1362.7" r="5.1"/><circle cx="653.4" cy="1377.8" r="5.1"/><circle cx="746.8" cy="1338.3" r="5.1"/><circle cx="582.4" cy="1411.4" r="5.1"/><circle cx="624.6" cy="1427.1" r="5.1"/><circle cx="616" cy="1447.7" r="5.1"/><circle cx="648.1" cy="1435.9" r="5.1"/><circle cx="680.4" cy="1407.9" r="5.1"/><circle cx="678.2" cy="1428.5" r="5.1"/><circle cx="673.7" cy="1444.6" r="5.1"/><circle cx="702.9" cy="1429.1" r="5.1"/><circle cx="702.9" cy="1439.4" r="5.1"/><circle cx="721.4" cy="1432.6" r="5.1"/><circle cx="733" cy="1440.9" r="5.1"/><circle cx="753.9" cy="1417.3" r="5.1"/><circle cx="808.9" cy="1387.6" r="5.1"/><circle cx="836" cy="1386.4" r="5.1"/><circle cx="853.3" cy="1391.9" r="5.1"/><circle cx="794.2" cy="1415.5" r="5.1"/><circle cx="812.4" cy="1414.3" r="5.1"/><circle cx="847.8" cy="1416.7" r="5.1"/><circle cx="813.6" cy="1430.2" r="5.1"/><circle cx="866.7" cy="1429.1" r="5.1"/><circle cx="888.2" cy="1427.9" r="5.1"/><circle cx="906.1" cy="1419.6" r="5.1"/><circle cx="912.6" cy="1435" r="5.1"/><circle cx="934.2" cy="1433.8" r="5.1"/><circle cx="856.9" cy="1446.7" r="5.1"/><circle cx="1049" cy="1338.9" r="5.1"/><circle cx="1001.2" cy="1371.1" r="5.1"/><circle cx="1046" cy="1371.1" r="5.1"/><circle cx="991.1" cy="1409.7" r="5.1"/><circle cx="1054.4" cy="1418.1" r="5.1"/><circle cx="1109.4" cy="1422.3" r="5.1"/><circle cx="1038.4" cy="1448.3" r="5.1"/><circle cx="1096.5" cy="1455.9" r="5.1"/><circle cx="1167.6" cy="1455.7" r="5.1"/><circle cx="416.9" cy="1342.8" r="5.1"/></g>
<path fill="none" stroke="#0000ff" stroke-width="6.3" stroke-linejoin="round" stroke-linecap="butt" d="M277.8 1217.7L301.4 1217.7L312 1241.3L323.7 1242.5L334.4 1246L344.9 1266.5L365.5 1266.5L387.8 1273.1L388.6 1273.1L390.6 1290L395.6 1320L397.7 1339.5L415.4 1341.9L438.9 1356L450.7 1357.8L462.5 1365.4L474.3 1366L484.9 1383.1L496.7 1367.2L504.9 1367.2L519.1 1374.9L537.9 1376.6L548.5 1397.8L559.1 1395.5L570.9 1400.8L580 1402L581.8 1403.1L593.6 1407.9L614.8 1410.2L634.8 1413.2L645.4 1410.2L659.6 1416.1L676.1 1414.9L699.6 1416.1L711.4 1422L722 1422L735 1417.3L770 1419.6L783.6 1419.1L807.1 1419.6L854.3 1417.9L889.6 1417.9L901.4 1412.6L925 1413.7L936.2 1420.8L946.2 1414.9L960 1415.5L976.8 1413.9L990.3 1418.1L1000.3 1408.9L1012.1 1418.1L1022.1 1406.4L1037.2 1406.4L1047.3 1403L1064.1 1409.7L1096 1409.7L1107.7 1415.6L1110 1416.1L1139.6 1415.6L1150 1408.1L1151.6 1409.1L1164.1 1447.2"/>
</g>
<rect x="161.1" y="751.9" width="1485.8000000000002" height="708.0000000000001" fill="none" stroke="#262626" stroke-width="2.0"/>
<text x="153.0" y="1478.4" text-anchor="end" font-size="45" letter-spacing="-0.4">0.0</text>
<text x="153.0" y="1337.1" text-anchor="end" font-size="45" letter-spacing="-0.4">0.2</text>
<text x="153.0" y="1196.1" text-anchor="end" font-size="45" letter-spacing="-0.4">0.4</text>
<text x="153.0" y="1053.5" text-anchor="end" font-size="45" letter-spacing="-0.4">0.6</text>
<text x="153.0" y="912.7" text-anchor="end" font-size="45" letter-spacing="-0.4">0.8</text>
<text x="153.0" y="771.3" text-anchor="end" font-size="45" letter-spacing="-0.4">1.0</text>
<text x="270.9" y="1503.2" text-anchor="middle" font-size="45">20</text>
<text x="485.9" y="1503.2" text-anchor="middle" font-size="45">40</text>
<text x="700.8" y="1503.2" text-anchor="middle" font-size="45">60</text>
<text x="915.8" y="1503.2" text-anchor="middle" font-size="45">80</text>
<text x="1130.7" y="1503.2" text-anchor="middle" font-size="45">100</text>
<text x="1345.7" y="1503.2" text-anchor="middle" font-size="45">120</text>
<text x="1560.6" y="1503.2" text-anchor="middle" font-size="45">140</text>
<text x="904.6" y="1566" text-anchor="middle" font-size="56.3">Scattering Angle [Deg]</text>
<text transform="translate(43.7 796.9) rotate(-90)" text-anchor="middle" font-size="56.1">Scattering Phase Function</text>
<text transform="translate(1662.5 369.6) rotate(90)" text-anchor="middle" font-size="45">Morning</text>
<text transform="translate(1658 1108.3) rotate(90)" text-anchor="middle" font-size="45">Afternoon</text>
<rect x="1316.4" y="37.5" width="308.8" height="209.5" rx="8" ry="8" fill="#fff" fill-opacity="0.8" stroke="#cccccc" stroke-opacity="0.8" stroke-width="2"/>
<line x1="1331.6" y1="74.3" x2="1427.5" y2="74.3" stroke="#ff0000" stroke-width="6.3"/>
<text x="1459.1" y="92.6" font-size="45">MY 34</text>
<line x1="1331.6" y1="139.1" x2="1427.5" y2="139.1" stroke="#008000" stroke-width="6.3"/>
<text x="1459.1" y="157.4" font-size="45">MY 35</text>
<line x1="1331.6" y1="203.9" x2="1427.5" y2="203.9" stroke="#0000ff" stroke-width="6.3"/>
<text x="1459.1" y="222.2" font-size="45">MY 36</text>
</svg></body></html>
